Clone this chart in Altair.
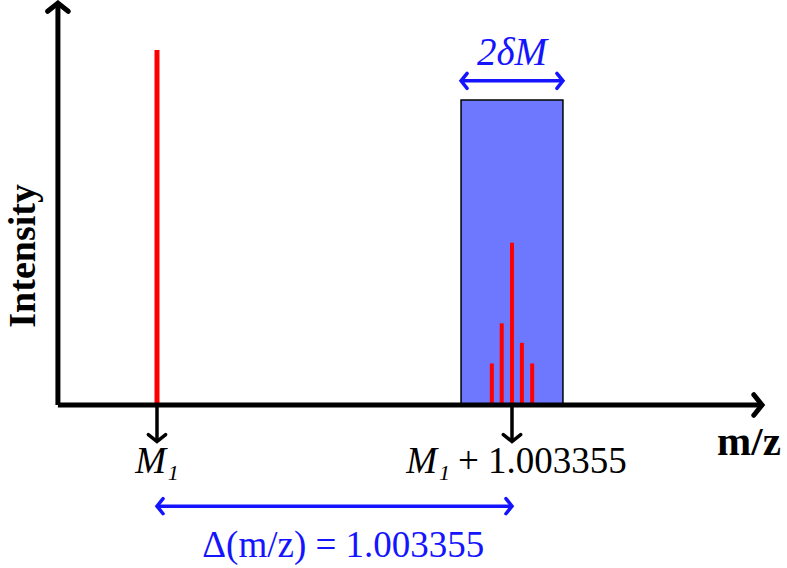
import altair as alt
import pandas as pd

# ---- data (m/z offsets from M1, intensity in arbitrary units) ----
SHIFT = 1.003355
mono_mz = [0.0]
mono_int = [100.0]
iso_offsets = [-0.057, -0.029, 0.0, 0.028, 0.057]
iso_int = [11.7, 23.0, 45.7, 17.5, 11.7]
delta_m = 0.144
window_top = 85.9

tick_mz = [0.0, SHIFT]
mass_symbol = "M\u2081"
shift_text = "+ 1.003355"

# annotation levels (data units)
axis_x_ext = [-0.28, 1.71]
axis_y_top = 113.2
tick_tip = -10.3
label_level = -19.2
delta_arrow_level = -28.5
delta_text_level = -42.8
width_arrow_level = 91.3
width_text_level = 95.8

X_DOM = [-0.4437, 1.7806]
Y_DOM = [-45.92, 114.08]

BLUE = "#1414ff"
RED = "#ff0000"
CHEVRON = "M -0.8 -1 L 0 0 L -0.8 1"
FONT = "Liberation Serif"

xs = alt.Scale(domain=X_DOM, nice=False, zero=False)
ys = alt.Scale(domain=Y_DOM, nice=False, zero=False)


def X(f="x"):
    return alt.X(f"{f}:Q", scale=xs, axis=None)


def Y(f="y"):
    return alt.Y(f"{f}:Q", scale=ys, axis=None)


# window box
box_df = pd.DataFrame({"x": [SHIFT - delta_m], "x2": [SHIFT + delta_m],
                       "y": [0.0], "y2": [window_top]})
box = alt.Chart(box_df).mark_rect(fill="#6e78ff", stroke="black", strokeWidth=1.5).encode(
    x=X(), x2="x2:Q", y=Y(), y2="y2:Q")

# peaks
mono_df = pd.DataFrame({"x": mono_mz, "y": [0.0] * len(mono_mz), "y2": mono_int})
mono = alt.Chart(mono_df).mark_rule(color=RED, strokeWidth=5).encode(
    x=X(), y=Y(), y2="y2:Q")
iso_df = pd.DataFrame({"x": [SHIFT + o for o in iso_offsets],
                       "y": [0.0] * len(iso_int), "y2": iso_int})
iso = alt.Chart(iso_df).mark_rule(color=RED, strokeWidth=4).encode(
    x=X(), y=Y(), y2="y2:Q")

# main axes lines
axes_df = pd.DataFrame({
    "x": [axis_x_ext[0], axis_x_ext[0]],
    "x2": [axis_x_ext[1], axis_x_ext[0]],
    "y": [0.0, 0.0],
    "y2": [0.0, axis_y_top],
})
axes = alt.Chart(axes_df).mark_rule(color="black", strokeWidth=5).encode(
    x=X(), x2="x2:Q", y=Y(), y2="y2:Q")

# tick arrows
ticks_df = pd.DataFrame({"x": tick_mz, "y": [0.0, 0.0], "y2": [tick_tip, tick_tip]})
ticks = alt.Chart(ticks_df).mark_rule(color="black", strokeWidth=3.5).encode(
    x=X(), y=Y(), y2="y2:Q")

# blue double arrows
blue_df = pd.DataFrame({
    "x": [0.0, SHIFT - delta_m],
    "x2": [SHIFT, SHIFT + delta_m],
    "y": [delta_arrow_level, width_arrow_level],
})
blue_lines = alt.Chart(blue_df).mark_rule(color=BLUE, strokeWidth=3.5).encode(
    x=X(), x2="x2:Q", y=Y())

# arrowheads
heads_df = pd.DataFrame({
    "x": [axis_x_ext[1], axis_x_ext[0], 0.0, SHIFT,
          0.0, SHIFT, SHIFT - delta_m, SHIFT + delta_m],
    "y": [0.0, axis_y_top, tick_tip, tick_tip,
          delta_arrow_level, delta_arrow_level, width_arrow_level, width_arrow_level],
    "angle": [0, 270, 90, 90, 180, 0, 180, 0],
    "size": [420, 420, 300, 300, 230, 230, 230, 230],
    "color": ["black", "black", "black", "black", BLUE, BLUE, BLUE, BLUE],
    "sw": [5, 5, 3.5, 3.5, 3.5, 3.5, 3.5, 3.5],
})
heads = alt.Chart(heads_df).mark_point(shape=CHEVRON, filled=False, opacity=1,
                                        strokeJoin="miter", strokeCap="round").encode(
    x=X(), y=Y(),
    angle=alt.Angle("angle:Q", scale=None),
    size=alt.Size("size:Q", scale=None),
    stroke=alt.Stroke("color:N", scale=None),
    strokeWidth=alt.StrokeWidth("sw:Q", scale=None),
)

# tick labels
m1_df = pd.DataFrame({"x": [tick_mz[0]], "y": [label_level], "t": [mass_symbol]})
m1_lab = alt.Chart(m1_df).mark_text(font=FONT, fontSize=37, fontStyle="italic", color="black",
                                     baseline="alphabetic", align="center").encode(
    x=X(), y=Y(), text="t:N")

m2a_df = pd.DataFrame({"x": [tick_mz[1]], "y": [label_level], "t": [mass_symbol]})
m2a_lab = alt.Chart(m2a_df).mark_text(font=FONT, fontSize=37, fontStyle="italic", color="black",
                                       baseline="alphabetic", align="right", dx=-62).encode(
    x=X(), y=Y(), text="t:N")
m2b_df = pd.DataFrame({"x": [tick_mz[1]], "y": [label_level], "t": [shift_text]})
m2b_lab = alt.Chart(m2b_df).mark_text(font=FONT, fontSize=37, color="black",
                                       baseline="alphabetic", align="left", dx=-54).encode(
    x=X(), y=Y(), text="t:N")

delta_df = pd.DataFrame({"x": [SHIFT / 2 + 0.025], "y": [delta_text_level],
                         "t": ["\u0394(m/z) = 1.003355"]})
delta_txt = alt.Chart(delta_df).mark_text(font=FONT, fontSize=37, color=BLUE,
                                           baseline="alphabetic", align="center").encode(
    x=X(), y=Y(), text="t:N")

w_df = pd.DataFrame({"x": [SHIFT], "y": [width_text_level], "t": ["2\u03b4M"]})
w_txt = alt.Chart(w_df).mark_text(font=FONT, fontSize=39, fontStyle="italic", color=BLUE,
                                   baseline="alphabetic", align="center").encode(
    x=X(), y=Y(), text="t:N")

mz_df = pd.DataFrame({"x": [1.583], "y": [-14.1], "t": ["m/z"]})
mz_txt = alt.Chart(mz_df).mark_text(font=FONT, fontSize=41, fontWeight="bold", color="black",
                                     baseline="alphabetic", align="left").encode(
    x=X(), y=Y(), text="t:N")

int_df = pd.DataFrame({"x": [-0.345], "y": [42.0], "t": ["Intensity"]})
int_txt = alt.Chart(int_df).mark_text(font=FONT, fontSize=38, fontWeight="bold", color="black",
                                       baseline="alphabetic", align="center", angle=270).encode(
    x=X(), y=Y(), text="t:N")

chart = alt.layer(
    box, mono, iso, axes, ticks, blue_lines, heads,
    m1_lab, m2a_lab, m2b_lab, delta_txt, w_txt, mz_txt, int_txt,
).properties(
    width=787, height=568,
    autosize=alt.AutoSizeParams(type="none"),
    padding=0,
    background="white",
).configure_view(stroke=None)

chart.save("out.html", embed_options={"renderer": "svg", "actions": False})
